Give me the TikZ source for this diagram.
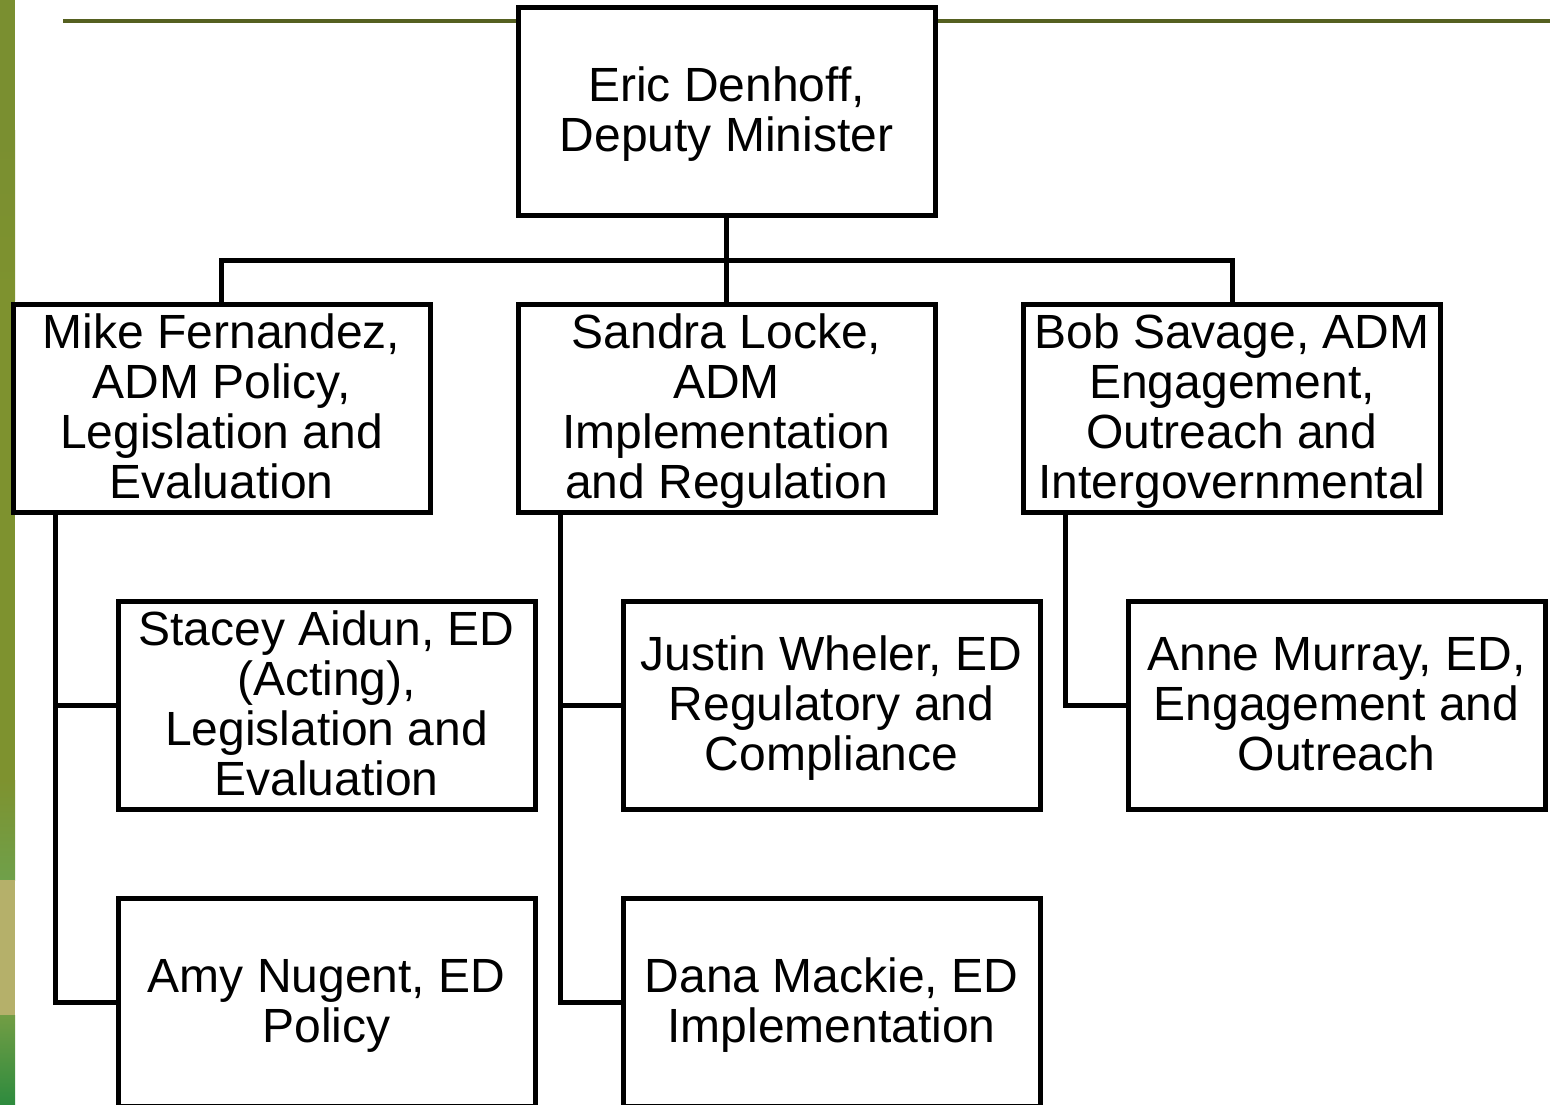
\documentclass[tikz,border=0pt]{standalone}
\usepackage{fontspec}
\setmainfont{Liberation Sans}
\definecolor{olive}{HTML}{7E922F}
\definecolor{olivetop}{HTML}{7A8F30}
\definecolor{rule}{HTML}{556020}
\definecolor{khaki}{HTML}{B5B06A}
\definecolor{leaf}{HTML}{6FA04A}
\definecolor{dgreen}{HTML}{2E8B3E}
\newcommand\topst{\rule{0pt}{40pt}}
\newcommand\botst{\rule[-10pt]{0pt}{10pt}}
\begin{document}
\begin{tikzpicture}[x=1pt,y=-1pt,
  box/.style={draw=black,line width=5pt,fill=white,minimum width=417pt,minimum height=208pt,
    inner sep=0pt,outer sep=0pt,align=center,font=\fontsize{48}{50}\selectfont,anchor=north west},
  link/.style={draw=black,line width=5pt}]
\useasboundingbox (0,0) rectangle (1551,1104);
\clip (0,0) rectangle (1551,1104);
% left strip
\fill[olivetop] (0,0) rectangle (15,130);
\shade[top color=olivetop,bottom color=olive] (0,130) rectangle (15,300);
\fill[olive] (0,300) rectangle (15,780);
\shade[top color=olive,bottom color=leaf] (0,780) rectangle (15,880);
\fill[khaki] (0,880) rectangle (15,1015);
\shade[top color=leaf!80!olive,bottom color=dgreen] (0,1015) rectangle (15,1104);
% top rule
\draw[rule,line width=4pt] (63,21) -- (1550,21);
% boxes
\node[box] (dm) at (518,7.5) {\topst Eric Denhoff,\\Deputy Minister\botst};
\node[box] (mf) at (13,304.5) {\topst Mike Fernandez,\\ADM Policy,\\Legislation and\\Evaluation\botst};
\node[box] (sl) at (518,304.5) {\topst Sandra Locke,\\ADM\\Implementation\\and Regulation\botst};
\node[box] (bs) at (1023.5,304.5) {\topst Bob Savage, ADM\\Engagement,\\Outreach and\\Intergovernmental\botst};
\node[box] (sa) at (118,601) {\topst Stacey Aidun, ED\\(Acting),\\Legislation and\\Evaluation\botst};
\node[box] (jw) at (623,601) {\topst Justin Wheler, ED\\Regulatory and\\Compliance\botst};
\node[box] (am) at (1128,601) {\topst Anne Murray, ED,\\Engagement and\\Outreach\botst};
\node[box] (an) at (118,898) {\topst Amy Nugent, ED\\Policy\botst};
\node[box] (dma) at (623,898) {\topst Dana Mackie, ED\\Implementation\botst};
% connectors
\coordinate (bar) at (726.5,260);
\draw[link] (dm.south) -- (sl.north);
\draw[link] (mf.north) |- (bar) -| (bs.north);
\coordinate (lx) at (55,0);
\coordinate (mx) at (560,0);
\coordinate (rx) at (1065,0);
\draw[link] (mf.south -| lx) |- (an.west);
\draw[link] (sa.west) -- (sa.west -| lx);
\draw[link] (sl.south -| mx) |- (dma.west);
\draw[link] (jw.west) -- (jw.west -| mx);
\draw[link] (bs.south -| rx) |- (am.west);
\end{tikzpicture}
\end{document}
